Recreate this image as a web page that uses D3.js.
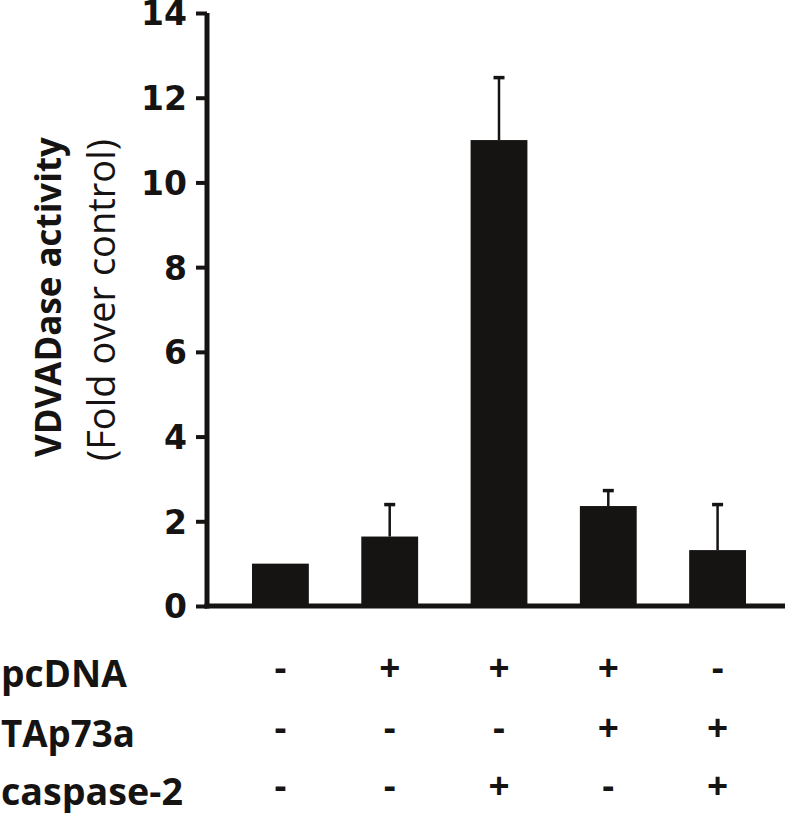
<!DOCTYPE html>
<html>
<head>
<meta charset="utf-8">
<script src="https://cdn.jsdelivr.net/npm/d3@7"></script>
<style>
  body { margin: 0; background: #fff; }
  svg { display: block; }
</style>
</head>
<body>
<script>
// values
var groups = ["g1", "g2", "g3", "g4", "g5"];
var means = [1.0, 1.64, 11.0, 2.36, 1.32];
var errTops = [null, 2.43, 12.51, 2.76, 2.43];
var yTicks = [0, 2, 4, 6, 8, 10, 12, 14];
var rowLabels = ["pcDNA", "TAp73a", "caspase-2"];
var rowSigns = [
    ["-", "+", "+", "+", "-"],
    ["-", "-", "-", "+", "+"],
    ["-", "-", "+", "-", "+"]
];

var W = 785, H = 813;
var ink = "#161313";

var svg = d3.select("body").append("svg")
    .attr("width", W)
    .attr("height", H);

var x = d3.scaleBand()
    .domain(groups)
    .range([252, 746])
    .paddingInner(0.48)
    .paddingOuter(0);

var y = d3.scaleLinear()
    .domain([0, 14])
    .range([606, 13]);

// bars
svg.selectAll(".bar")
    .data(groups)
    .enter().append("rect")
    .attr("class", "bar")
    .attr("x", function (d) { return x(d); })
    .attr("width", x.bandwidth())
    .attr("y", function (d, i) { return y(means[i]); })
    .attr("height", function (d, i) { return y(0) - y(means[i]); })
    .attr("fill", ink);

// error bars (upper only)
var eb = svg.selectAll(".err")
    .data(groups.filter(function (d, i) { return errTops[i] !== null; }))
    .enter().append("g")
    .attr("class", "err");

eb.append("line")
    .attr("x1", function (d) { return x(d) + x.bandwidth() / 2; })
    .attr("x2", function (d) { return x(d) + x.bandwidth() / 2; })
    .attr("y1", function (d) { return y(means[groups.indexOf(d)]); })
    .attr("y2", function (d) { return y(errTops[groups.indexOf(d)]); })
    .attr("stroke", ink)
    .attr("stroke-width", 2.5);

eb.append("line")
    .attr("x1", function (d) { return x(d) + x.bandwidth() / 2 - 5.5; })
    .attr("x2", function (d) { return x(d) + x.bandwidth() / 2 + 5.5; })
    .attr("y1", function (d) { return y(errTops[groups.indexOf(d)]) + 1.5; })
    .attr("y2", function (d) { return y(errTops[groups.indexOf(d)]) + 1.5; })
    .attr("stroke", ink)
    .attr("stroke-width", 3.5);

// y axis
var yAxis = d3.axisLeft(y)
    .tickValues(yTicks)
    .tickSize(11)
    .tickPadding(9)
    .tickSizeOuter(0);

var ag = svg.append("g")
    .attr("transform", "translate(207,0)")
    .call(yAxis);

ag.select(".domain")
    .attr("stroke", ink)
    .attr("stroke-width", 5)
    .attr("d", "M0," + y(14) + "V" + (y(0) + 2.5));
ag.selectAll(".tick line")
    .attr("stroke", ink)
    .attr("stroke-width", 4);
ag.selectAll(".tick text")
    .attr("fill", ink)
    .style("font-family", "'DejaVu Sans', Verdana, sans-serif")
    .style("font-weight", "bold")
    .style("font-size", "33px")
    .attr("dy", "0.36em");

// x baseline
svg.append("line")
    .attr("x1", 204.5)
    .attr("x2", W)
    .attr("y1", y(0))
    .attr("y2", y(0))
    .attr("stroke", ink)
    .attr("stroke-width", 5);

// helper: scale font size so the text spans a given width
function fitText(sel, target) {
    sel.style("font-size", "100px");
    var w = sel.node().getComputedTextLength();
    sel.style("font-size", (100 * target / w) + "px");
}

var labelFont = "'Open Sans', 'Noto Sans', sans-serif";

// y title, two lines
var t1 = svg.append("text")
    .attr("transform", "translate(61,297) rotate(-90)")
    .attr("text-anchor", "middle")
    .attr("fill", ink)
    .style("font-family", labelFont)
    .style("font-weight", "bold")
    .text("VDVADase activity");
fitText(t1, 320);

var t2 = svg.append("text")
    .attr("transform", "translate(115,300) rotate(-90)")
    .attr("text-anchor", "middle")
    .attr("fill", ink)
    .style("font-family", labelFont)
    .text("(Fold over control)");
fitText(t2, 322);

// condition table below the chart
var rowY = [687, 747, 805];
var rowW = [126, 134, 182];

var rows = svg.selectAll(".row")
    .data(rowLabels)
    .enter().append("g")
    .attr("class", "row")
    .attr("transform", function (d, i) { return "translate(0," + rowY[i] + ")"; });

rows.append("text")
    .attr("x", 1)
    .attr("fill", ink)
    .style("font-family", labelFont)
    .style("font-weight", "bold")
    .text(function (d) { return d; })
    .each(function (d, i) { fitText(d3.select(this), rowW[i]); });

rows.selectAll(".sign")
    .data(function (d, i) { return rowSigns[i]; })
    .enter().append("text")
    .attr("class", "sign")
    .attr("x", function (d, j) { return x(groups[j]) + x.bandwidth() / 2; })
    .attr("y", -6)
    .attr("text-anchor", "middle")
    .attr("fill", ink)
    .style("font-family", labelFont)
    .style("font-weight", "bold")
    .style("font-size", "37px")
    .text(function (d) { return d; });
</script>
</body>
</html>
